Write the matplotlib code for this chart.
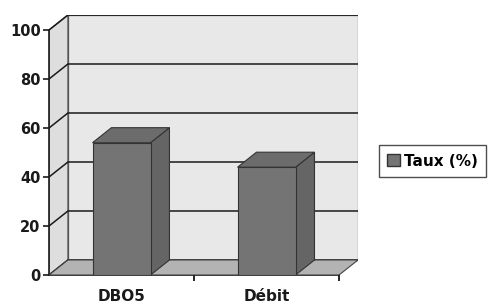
import matplotlib
matplotlib.use("Agg")
import matplotlib.pyplot as plt
from matplotlib.patches import Polygon, Patch

# Data
categories = ['DBO5', 'Débit']
taux = [54, 44]
y_ticks = [0, 20, 40, 60, 80, 100]

W, H = 496, 305
fig = plt.figure(figsize=(W / 100, H / 100), dpi=100)

# plot area in pixels (front plane 49..340, back offset by 19 px right, 15 px up)
left_px, right_px, bottom_px, top_px = 49, 358, 275, 15
ax = fig.add_axes([left_px / W, 1 - bottom_px / H,
                   (right_px - left_px) / W, (bottom_px - top_px) / H])

n = len(categories)
dx = 19 / 145.5          # depth offset in x (category units)
dy = 15 / 2.448          # depth offset in y (value units)
ax.set_xlim(0, n + dx)
ax.set_ylim(0, 100 + dy)

wall = '#e8e8e8'
side = '#dedede'
floor = '#b3b3b3'
line = '#1a1a1a'

# back wall and left wall
ax.add_patch(Polygon([(dx, dy), (n + dx, dy), (n + dx, 100 + dy), (dx, 100 + dy)],
                     closed=True, fc=wall, ec='#555555', lw=0.9, zorder=1))
ax.add_patch(Polygon([(0, 0), (dx, dy), (dx, 100 + dy), (0, 100)],
                     closed=True, fc=side, ec='#555555', lw=0.9, zorder=1))

# gridlines on back and side walls
for t in y_ticks:
    ax.plot([0, dx, n + dx], [t, t + dy, t + dy], color=line, lw=1.1, zorder=2)

# floor
ax.add_patch(Polygon([(0, 0), (n, 0), (n + dx, dy), (dx, dy)],
                     closed=True, fc=floor, ec='#444444', lw=0.8, zorder=3))

# bars: front faces via bar(), top/side from bar geometry
bw = 0.40
bars = ax.bar(range(n), taux, width=bw, align='edge', color='#747474',
              edgecolor='#333333', lw=0.8, zorder=5)
for b in bars:
    x0, x1, h = b.get_x() + 0.5 - bw / 2, b.get_x() + 0.5 + bw / 2, b.get_height()
    b.set_x(x0)
    ax.add_patch(Polygon([(x1, 0), (x1 + dx, dy), (x1 + dx, h + dy), (x1, h)],
                         closed=True, fc='#656565', ec='#333333', lw=0.8, zorder=4))
    ax.add_patch(Polygon([(x0, h), (x0 + dx, h + dy), (x1 + dx, h + dy), (x1, h)],
                         closed=True, fc='#6c6c6c', ec='#333333', lw=0.8, zorder=4))

# axes
for s in ['top', 'right']:
    ax.spines[s].set_visible(False)
ax.spines['left'].set_bounds(0, 100)
ax.spines['bottom'].set_bounds(0, n)
ax.spines['left'].set_color(line)
ax.spines['bottom'].set_color(line)
ax.spines['left'].set_linewidth(1.2)
ax.spines['bottom'].set_linewidth(1.2)
ax.set_yticks(y_ticks)
ax.tick_params(axis='y', direction='out', length=4, width=1.2, pad=2,
               labelsize=10.5, colors=line)
ax.set_xticks([i + 0.5 for i in range(n)])
ax.set_xticklabels(categories)
ax.tick_params(axis='x', length=0, pad=10, labelsize=11, colors=line)
ax.set_xticks([1, 2], minor=True)
ax.tick_params(axis='x', which='minor', direction='out', length=4, width=1.2)
for lab in ax.get_xticklabels() + ax.get_yticklabels():
    lab.set_fontweight('bold')
ax.set_facecolor('none')

# legend
fig.legend(handles=[Patch(fc='#747474', ec='#333333', label='Taux (%)')],
           loc='center left', bbox_to_anchor=(379 / W, 1 - 161 / H),
           frameon=True, fancybox=False, edgecolor='#222222',
           prop={'weight': 'bold', 'size': 11}, handlelength=0.8,
           handleheight=0.8, handletextpad=0.3, borderpad=0.55,
           borderaxespad=0)

fig.savefig('out.png', dpi=100)
